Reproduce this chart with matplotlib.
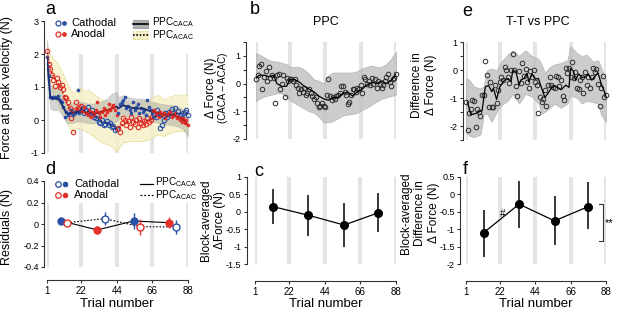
import numpy as np
import matplotlib
matplotlib.use("Agg")
import matplotlib.pyplot as plt
from matplotlib.lines import Line2D
from matplotlib.patches import Rectangle
from matplotlib.ticker import MultipleLocator

plt.rcParams['font.family'] = ['Liberation Sans', 'DejaVu Sans']

W, H = 617, 313

# ===========================================================================
# DATOS
# ===========================================================================

trials = np.arange(1, 89)
block_marks = [1, 22, 44, 66, 88]
trial_ticks = [1, 22, 44, 66, 88]

# panel a: force at peak velocity, grupo CACA (puntos llenos) y ACAC (abiertos)
caca_pts = [1.9, 1.33, 0.69, 0.66, 0.69, 0.7, 0.66, 0.72, 0.6, 0.55, 0.4, 0.1, 0.25, 0.15, 0.22, 0.3, 0.15, 0.2, 0.25, 0.9, 0.2, 0.3,
            0.27, 0.4, 0.2, 0.15, 0.3, 0.1, 0.25, 0.15, 0.3, 0.55, 0.2, 0.1, 0.25, 0.35, 0.15, 0.25, 0.5, 0.3, 0.4, 0.45, 0.3, 0.15,
            0.2, 0.5, 0.55, 0.6, 0.69, 0.35, 0.42, 0.3, 0.22, 0.55, 0.3, 0.38, 0.5, 0.2, 0.35, 0.25, 0.3, 0.15, 0.6, 0.4, 0.3, 0.2,
            0.3, 0.15, 0.2, 0.1, 0.25, 0.15, 0.2, 0.05, 0.15, 0.2, 0.25, 0.1, 0.15, 0.2, 0.05, 0.1, 0.0, -0.05, 0.05, -0.1, 0.0, -0.15]
acac_pts = [2.1, 1.7, 1.55, 1.36, 1.2, 1.03, 1.26, 1.16, 0.99, 1.06, 0.93, 0.7, 0.66, 0.55, 0.35, 0.05, -0.35, 0.3, 0.55, 0.35, 0.4, 0.42,
            0.35, 0.2, 0.3, 0.4, 0.2, 0.15, 0.3, 0.1, 0.05, 0.15, -0.05, -0.1, 0.0, -0.15, -0.12, -0.02, -0.15, -0.08, -0.2, -0.18, -0.3, -0.28,
            -0.25, -0.35, -0.1, 0.05, 0.0, -0.15, -0.02, -0.2, 0.1, -0.05, -0.12, 0.0, -0.2, 0.05, -0.08, -0.15, -0.02, -0.12, 0.05, -0.05, 0.0, 0.1,
            0.15, 0.1, 0.3, 0.2, -0.25, -0.15, 0.0, 0.2, 0.08, 0.25, 0.15, 0.32, 0.2, 0.35, 0.15, 0.28, 0.15, 0.05, 0.2, 0.25, 0.3, 0.15]

caca_line_x = [1, 2, 3, 5, 8, 11, 13, 16, 19, 22, 23, 26, 30, 34, 38, 41, 44,
               45, 48, 52, 56, 60, 63, 66, 67, 70, 74, 78, 82, 85, 88]
caca_line = [1.9, 1.3, 0.7, 0.65, 0.65, 0.4, 0.2, 0.2, 0.25, 0.25, 0.25, 0.2, 0.2, 0.25, 0.3, 0.35, 0.4,
             0.35, 0.45, 0.38, 0.35, 0.35, 0.3, 0.25, 0.25, 0.2, 0.17, 0.15, 0.1, 0.02, -0.15]
caca_sd = [0.55, 0.45, 0.35, 0.35, 0.35, 0.3, 0.3, 0.3, 0.3, 0.3, 0.3, 0.3, 0.3, 0.3, 0.35, 0.45, 0.45,
           0.35, 0.3, 0.3, 0.3, 0.3, 0.3, 0.3, 0.3, 0.3, 0.3, 0.3, 0.3, 0.3, 0.35]

acac_line_x = [1, 3, 5, 8, 11, 14, 17, 20, 22, 23, 27, 31, 35, 39, 42, 44,
               45, 48, 52, 56, 60, 64, 66, 67, 70, 73, 77, 81, 85, 88]
acac_line = [2.05, 1.55, 1.3, 1.1, 0.8, 0.45, 0.2, 0.35, 0.35, 0.3, 0.25, 0.1, -0.05, -0.1, -0.2, -0.3,
             -0.25, -0.1, -0.05, -0.05, -0.05, 0.0, 0.05, 0.1, 0.15, 0.05, 0.15, 0.2, 0.2, 0.2]
acac_sd = [0.3, 0.45, 0.55, 0.6, 0.6, 0.6, 0.6, 0.6, 0.6, 0.6, 0.65, 0.65, 0.65, 0.65, 0.65, 0.65,
           0.65, 0.6, 0.6, 0.6, 0.6, 0.6, 0.6, 0.6, 0.6, 0.55, 0.55, 0.55, 0.55, 0.55]

# panel d: residuos promediados por bloque
d_caca_x = [9.5, 32, 54.5, 76.5]
d_caca = [0.03, -0.055, 0.028, 0.012]
d_caca_err = [0.015, 0.035, 0.07, 0.05]
d_acac_x = [13.5, 36.5, 58.5, 80.5]
d_acac = [0.012, 0.05, -0.025, -0.027]
d_acac_err = [0.02, 0.06, 0.075, 0.065]

# panel b: diferencia CACA - ACAC
b_pts = [0.15, 0.3, 0.65, 0.7, -0.2, 0.25, 0.45, 0.1, 0.6, 0.2, 0.3, 0.2, -0.7, 0.3, 0.35, -0.2, 0.0, 0.3, -0.5, 0.2, 0.1, 0.15,
         0.15, 0.1, 0.15, -0.05, -0.15, -0.35, -0.2, -0.3, -0.15, -0.4, -0.35, -0.2, -0.35, -0.45, -0.55, -0.5, -0.7, -0.85, -0.8, -0.7, -0.8, -0.85,
         -0.4, 0.15, -0.45, -0.6, -0.5, -0.55, -0.45, -0.4, -0.35, -0.1, -0.1, -0.3, -0.4, -0.75, -0.65, -0.4, -0.2, -0.2, -0.3, -0.15, -0.2, -0.05,
         -0.35, 0.25, 0.15, 0.0, 0.1, -0.05, 0.2, 0.0, 0.15, -0.15, 0.1, 0.0, -0.15, -0.05, 0.1, 0.25, 0.35, 0.05, -0.1, 0.15, 0.2, 0.35]
b_line_x = [1, 3, 6, 9, 12, 14, 17, 20, 22, 25, 28, 31, 34, 37, 40, 43, 46, 49, 52, 55, 58, 61, 64, 67, 70, 73, 76, 79, 82, 85, 88]
b_line = [0.2, 0.3, 0.3, 0.25, 0.3, 0.0, -0.1, -0.1, 0.15, 0.15, 0.05, -0.1, -0.2, -0.3, -0.45, -0.55,
          -0.6, -0.5, -0.5, -0.35, -0.3, -0.45, -0.3, -0.2, -0.05, 0.05, 0.0, 0.1, 0.0, 0.1, 0.35]
b_hi = [1.1, 1.05, 0.95, 0.85, 0.8, 0.8, 0.75, 0.7, 0.6, 0.6, 0.6, 0.5, 0.35, 0.15, 0.1, 0.0,
        0.3, 0.4, 0.4, 0.4, 0.4, 0.4, 0.45, 0.55, 0.6, 0.65, 0.6, 0.6, 0.7, 0.9, 1.15]
b_lo = [-0.63, -0.55, -0.47, -0.42, -0.38, -0.35, -0.35, -0.5, -0.6, -0.7, -0.8, -0.9, -1.0, -1.05, -1.2, -1.4,
        -1.4, -1.35, -1.25, -1.15, -1.12, -1.1, -1.05, -0.95, -0.87, -0.75, -0.65, -0.55, -0.5, -0.45, -0.4]

# panel c: promedio por bloque
blk_x = [12, 34, 56, 77]
c_mean = [0.15, -0.1, -0.38, -0.03]
c_err = [0.5, 0.59, 0.62, 0.56]

# panel e: T-T vs PPC
e_pts = [-1.15, -2.15, -1.55, -1.4, -1.07, -1.1, -2.05, -1.4, -1.5, -1.65,
         -0.9, -0.9, 0.33, -0.18, -1.33, -0.42, -1.33, -1.33, -0.55, -1.17,
         -0.72, -0.42, -0.25, -0.35, 0.12, 0.0, -0.25, -0.45, 0.0, 0.57,
         0.0, -0.57, -0.93, -0.05, -0.48, 0.26, -0.2, 0.05, -0.42, -0.65,
         -0.04, -0.24, 0.0, -0.42, -0.55, -1.52, -0.95, -1.13, -1.05, -0.7,
         -1.28, -0.54, -0.26, -0.54, -0.6, -0.65, -0.21, -0.24, -0.57, -0.36,
         -0.93, -1.07, 0.06, -0.1, 0.06, -0.24, 0.3, -0.3, -0.06, -0.65,
         -0.69, -0.36, -0.26, -0.81, -0.06, -0.54, -0.26, -0.65, -0.26, 0.06,
         -0.06, 0.05, -0.5, -1.29, -0.65, -0.2, -0.95, -0.9]
e_line_x = [2, 4, 7, 9, 11, 13, 15, 17, 18, 20, 22, 25, 27, 29, 30, 32, 34, 35, 37, 39, 40, 42, 44,
            46, 48, 50, 52, 54, 56, 58, 60, 63, 65, 66, 68, 69, 71, 73, 75, 77, 79, 81, 83, 85, 88]
e_line = [-1.15, -1.6, -1.55, -1.5, -1.45, -0.6, -0.55, -0.77, -0.65, -1.05, -0.6, -0.36, -0.3, -0.42, -0.04,
          -0.04, -0.54, -0.36, -0.3, -0.12, -0.42, -0.14, -0.33, -0.3, -0.65, -0.98, -0.83, -0.65, -0.57, -0.62,
          -0.71, -0.54, -0.62, 0.06, -0.06, -0.36, -0.14, -0.26, -0.26, -0.14, -0.36, -0.24, -0.1, -0.48, -0.93]
e_band_x = [1, 3, 6, 10, 12, 14, 17, 20, 23, 27, 30, 34, 38, 42, 46, 48, 50, 53, 56, 60, 64, 66, 70, 73, 76, 80, 83, 85, 88]
e_hi = [-0.3, -0.35, -0.6, -0.65, -0.6, 0.0, 0.05, 0.0, 0.3, 0.55, 0.7, 0.5, 0.7, 0.5, 0.4,
        0.2, -0.1, 0.1, 0.2, 0.25, 0.35, 0.85, 0.6, 0.5, 0.55, 0.3, 0.35, 0.1, -0.35]
e_lo = [-2.2, -2.35, -2.4, -2.3, -1.6, -1.55, -1.85, -1.5, -1.25, -1.1, -0.85, -1.2, -0.85, -0.95, -1.2,
        -1.55, -1.5, -1.35, -1.2, -1.35, -1.2, -0.9, -1.0, -1.2, -1.1, -1.15, -1.2, -1.6, -1.85]

# panel f
f_mean = [-1.1, -0.28, -0.76, -0.35]
f_lo = [-1.79, -0.97, -1.45, -1.0]
f_hi = [-0.45, 0.39, -0.05, 0.37]

# ===========================================================================
# ESTILO
# ===========================================================================

BLUE = '#2a4fa6'
RED = '#e3302a'
DBLUE = '#1b2f78'
DRED = '#c0201c'
BAR = '#e4e4e4'
AX = '#333333'

segs = [(1, 22), (23, 44), (45, 66), (67, 88)]


def fx(x):
    return x / W


def fy(y):
    return 1 - y / H


def make_ax(l, t, r, b):
    return fig.add_axes([fx(l), fy(b), (r - l) / W, (b - t) / H])


def style_ax(ax, ylim, yticks, left_off, bottom_off=None, fmt=None):
    ax.set_xlim(1, 88)
    ax.set_ylim(*ylim)
    ax.set_yticks(yticks)
    if fmt:
        ax.set_yticklabels([fmt(v) for v in yticks])
    for s in ['top', 'right']:
        ax.spines[s].set_visible(False)
    ax.spines['left'].set_position(('outward', left_off))
    ax.spines['left'].set_color(AX)
    ax.spines['left'].set_linewidth(0.8)
    ax.tick_params(axis='y', labelsize=6.5, length=2.5, width=0.8, color=AX, pad=1.5)
    if bottom_off is None:
        ax.spines['bottom'].set_visible(False)
        ax.set_xticks([])
    else:
        ax.spines['bottom'].set_position(('outward', bottom_off))
        ax.spines['bottom'].set_bounds(1, 88)
        ax.spines['bottom'].set_color(AX)
        ax.spines['bottom'].set_linewidth(0.8)
        ax.set_xticks(trial_ticks)
        ax.tick_params(axis='x', labelsize=7, length=2.5, width=0.8, color=AX, pad=2)
    ax.patch.set_alpha(0)


def block_bars(ax, y0, y1):
    for m in block_marks:
        ax.bar(m, y1 - y0, bottom=y0, width=2.4, color=BAR, zorder=0, linewidth=0)


def num(v):
    return '0' if v == 0 else ('%g' % v)


def ylab(x, y, s, size=9):
    fig.text(fx(x), fy(y), s, rotation=90, ha='center', va='center', fontsize=size)


fig = plt.figure(figsize=(W / 100, H / 100), dpi=100)

# ===========================================================================
# PANEL a
# ===========================================================================
ax = make_ax(47, 21, 188, 153)
style_ax(ax, (-1, 3), [-1, 0, 1, 2, 3], 2, fmt=num)
block_bars(ax, -1, 2)

x_a = np.array(acac_line_x)
y_a = np.array(acac_line)
s_a = np.array(acac_sd)
ax.fill_between(x_a, y_a - s_a, y_a + s_a, color='#f6f0c8', alpha=0.85, zorder=1, linewidth=0)
ax.plot(x_a, y_a + s_a, color='#e0d27a', lw=0.6, ls=(0, (2, 1.5)), zorder=1)
ax.plot(x_a, y_a - s_a, color='#e0d27a', lw=0.6, ls=(0, (2, 1.5)), zorder=1)

x_c = np.array(caca_line_x)
y_c = np.array(caca_line)
s_c = np.array(caca_sd)
ax.fill_between(x_c, y_c - s_c, y_c + s_c, color='#8c8c8c', alpha=0.35, zorder=2, linewidth=0.5,
                edgecolor='#8a8a8a')

caca_arr = np.array(caca_pts)
acac_arr = np.array(acac_pts)
for i, (lo, hi) in enumerate(segs):
    m = (trials >= lo) & (trials <= hi)
    c_fill = BLUE if i % 2 == 0 else RED
    c_open = RED if i % 2 == 0 else BLUE
    ax.plot(trials[m], acac_arr[m], 'o', ms=3.2, mfc='none', mec=c_open, mew=0.8, zorder=3, clip_on=False)
    ax.plot(trials[m], caca_arr[m], 'o', ms=2.6, mfc=c_fill, mec=c_fill, mew=0, zorder=3, clip_on=False)
    lo2 = lo - 1 if lo > 1 else lo
    mc = (x_c >= lo2) & (x_c <= hi)
    ma = (x_a >= lo2) & (x_a <= hi)
    ax.plot(x_c[mc], y_c[mc], color=DBLUE if i % 2 == 0 else DRED, lw=1.4, zorder=4)
    ax.plot(x_a[ma], y_a[ma], color=DRED if i % 2 == 0 else DBLUE, lw=1.2, ls=(0, (1, 1)), zorder=4)

# leyenda a
for yy, col, lab in [(23, BLUE, 'Cathodal'), (34, RED, 'Anodal')]:
    fig.add_artist(Line2D([fx(58)], [fy(yy)], marker='o', ms=3.6, mfc='none', mec=col, mew=0.9))
    fig.add_artist(Line2D([fx(64)], [fy(yy)], marker='o', ms=3.4, mfc=col, mec=col, mew=0))
    fig.text(fx(71), fy(yy), lab, fontsize=8, va='center', ha='left')
fig.add_artist(Rectangle((fx(133), fy(28)), 15 / W, 8 / H, facecolor='#9a9a9a', edgecolor='#777777', lw=0.5, alpha=0.8))
fig.add_artist(Line2D([fx(133), fx(148)], [fy(24), fy(24)], color='black', lw=1.2))
fig.add_artist(Rectangle((fx(133), fy(39)), 15 / W, 8 / H, facecolor='#f6f0c8', edgecolor='#e0d27a', lw=0.5, ls='--'))
fig.add_artist(Line2D([fx(133), fx(148)], [fy(35), fy(35)], color='black', lw=1.2, ls=(0, (1, 1))))
fig.text(fx(152), fy(22.5), r'PPC$_{\mathregular{CACA}}$', fontsize=7.2, va='center')
fig.text(fx(152), fy(35.5), r'PPC$_{\mathregular{ACAC}}$', fontsize=7.2, va='center')

fig.text(fx(45), fy(9), 'a', fontsize=13, va='center', ha='left')
ylab(7, 88, 'Force at peak velocity (N)')

# ===========================================================================
# PANEL d
# ===========================================================================
ax = make_ax(47, 181, 188, 267)
style_ax(ax, (-0.4, 0.4), [-0.4, -0.2, 0, 0.2, 0.4], 2, 9, fmt=num)
block_bars(ax, -0.4, 0.2)
ax.plot(d_caca_x, d_caca, color='black', lw=0.8, zorder=2)
ax.plot(d_acac_x, d_acac, color='black', lw=0.8, ls=(0, (1.5, 1.5)), zorder=2)
for i in range(4):
    c_fill = BLUE if i % 2 == 0 else RED
    c_open = RED if i % 2 == 0 else BLUE
    ax.errorbar(d_caca_x[i], d_caca[i], yerr=d_caca_err[i], fmt='o', ms=5, mfc=c_fill, mec=c_fill,
                ecolor=c_fill, elinewidth=1.0, capsize=0, zorder=3)
    ax.errorbar(d_acac_x[i], d_acac[i], yerr=d_acac_err[i], fmt='o', ms=5, mfc='white', mec=c_open, mew=1.0,
                ecolor=c_open, elinewidth=1.0, capsize=0, zorder=3)

for yy, col, lab in [(184, BLUE, 'Cathodal'), (195, RED, 'Anodal')]:
    fig.add_artist(Line2D([fx(58)], [fy(yy)], marker='o', ms=4, mfc='none', mec=col, mew=0.9))
    fig.add_artist(Line2D([fx(65)], [fy(yy)], marker='o', ms=4, mfc=col, mec=col, mew=0))
    fig.text(fx(74), fy(yy), lab, fontsize=8, va='center', ha='left')
fig.add_artist(Line2D([fx(140), fx(153)], [fy(184), fy(184)], color='black', lw=0.9))
fig.add_artist(Line2D([fx(140), fx(153)], [fy(195), fy(195)], color='black', lw=0.9, ls=(0, (1.5, 1.5))))
fig.text(fx(155), fy(182.5), r'PPC$_{\mathregular{CACA}}$', fontsize=7.2, va='center')
fig.text(fx(155), fy(195.5), r'PPC$_{\mathregular{ACAC}}$', fontsize=7.2, va='center')

fig.text(fx(45), fy(170), 'd', fontsize=13, va='center', ha='left')
ylab(7, 227, 'Residuals (N)')
fig.text(fx(117), fy(304), 'Trial number', fontsize=9.5, ha='center', va='center')

# ===========================================================================
# PANEL b
# ===========================================================================
ax = make_ax(256, 42, 396, 139)
style_ax(ax, (-2, 1.5), [-2, -1, 0, 1], 7, fmt=num)
ax.yaxis.set_minor_locator(MultipleLocator(0.5))
ax.tick_params(axis='y', which='minor', length=2.5, width=0.8, color=AX)
block_bars(ax, -2, 1.5)
ax.fill_between(b_line_x, b_lo, b_hi, color='#c4c4c4', alpha=0.85, zorder=1, linewidth=0.5, edgecolor='#aaaaaa')
ax.plot(trials, b_pts, 'o', ms=3.3, mfc='none', mec='#2a2a2a', mew=0.7, zorder=2, clip_on=False)
ax.plot(b_line_x, b_line, color='black', lw=0.9, zorder=3)
fig.text(fx(250), fy(10), 'b', fontsize=13, va='center', ha='left')
fig.text(fx(326), fy(22), 'PPC', fontsize=9, ha='center', va='center')
ylab(211, 88, u'\u0394 Force (N)', 8.5)
ylab(223, 88, u'(CACA \u2013 ACAC)', 7)

# ===========================================================================
# PANEL c
# ===========================================================================
ax = make_ax(255, 177, 396, 264)
style_ax(ax, (-1.5, 1), [-1.5, -1, -0.5, 0, 0.5, 1], 6, 12, fmt=num)
block_bars(ax, -1.5, 1)
ax.plot(blk_x, c_mean, color='black', lw=0.9, zorder=2)
ax.errorbar(blk_x, c_mean, yerr=c_err, fmt='o', ms=5.5, color='black', elinewidth=1.1, capsize=0, zorder=3)
fig.text(fx(254), fy(172), 'c', fontsize=13, va='center', ha='left')
ylab(206, 220, 'Block-averaged', 8.5)
ylab(220, 220, u'\u0394Force (N)', 8.5)
fig.text(fx(326), fy(304), 'Trial number', fontsize=9.5, ha='center', va='center')

# ===========================================================================
# PANEL e
# ===========================================================================
ax = make_ax(466, 42, 606, 140)
style_ax(ax, (-2.5, 1), [-2, -1, 0, 1], 2, fmt=num)
ax.yaxis.set_minor_locator(MultipleLocator(0.5))
ax.tick_params(axis='y', which='minor', length=2.5, width=0.8, color=AX)
block_bars(ax, -2.5, 1)
ax.fill_between(e_band_x, e_lo, e_hi, color='#c4c4c4', alpha=0.85, zorder=1, linewidth=0.5, edgecolor='#aaaaaa')
ax.plot(trials, e_pts, 'o', ms=3.3, mfc='none', mec='#2a2a2a', mew=0.7, zorder=2, clip_on=False)
ax.plot(e_line_x, e_line, color='black', lw=0.9, zorder=3)
fig.text(fx(462), fy(11), 'e', fontsize=13, va='center', ha='left')
fig.text(fx(538), fy(22), 'T-T vs PPC', fontsize=9, ha='center', va='center')
ylab(417, 85, 'Difference in', 8.5)
ylab(431, 85, u'\u0394 Force (N)', 8.5)

# ===========================================================================
# PANEL f
# ===========================================================================
ax = make_ax(466, 177, 606, 264)
style_ax(ax, (-2, 0.5), [-2, -1.5, -1, -0.5, 0, 0.5], 4, 12, fmt=num)
block_bars(ax, -2, 0.5)
ax.plot(blk_x, f_mean, color='black', lw=0.9, zorder=2)
f_err = [np.array(f_mean) - np.array(f_lo), np.array(f_hi) - np.array(f_mean)]
ax.errorbar(blk_x, f_mean, yerr=f_err, fmt='o', ms=5.5, color='black', elinewidth=1.1, capsize=0, zorder=3)
ax.text(24, -0.55, '#', fontsize=7, ha='center', va='center')
ax.plot([83.5, 86, 86, 83.5], [-0.28, -0.28, -1.34, -1.34], color='#333333', lw=0.8, clip_on=False)
ax.text(87.5, -0.83, '**', fontsize=8, ha='left', va='center', clip_on=False)
fig.text(fx(463), fy(170), 'f', fontsize=13, va='center', ha='left')
ylab(406, 213, 'Block-averaged', 8.5)
ylab(420, 213, 'Difference in', 8.5)
ylab(434, 213, u'\u0394 Force (N)', 8.5)
fig.text(fx(536), fy(304), 'Trial number', fontsize=9.5, ha='center', va='center')

fig.savefig('out.png', dpi=100)
